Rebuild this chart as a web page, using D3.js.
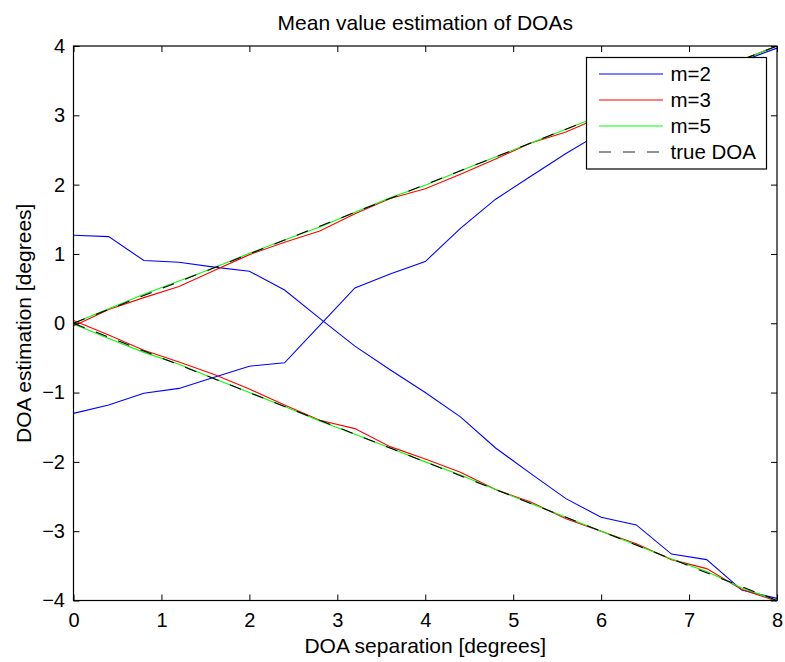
<!DOCTYPE html>
<html>
<head>
<meta charset="utf-8">
<script src="https://cdn.jsdelivr.net/npm/d3@7"></script>
<style>
  html, body { margin: 0; padding: 0; background: #fff; }
  svg { display: block; }
  text { font-family: "Liberation Sans", Arial, Helvetica, sans-serif; fill: #000; }
</style>
</head>
<body>
<svg id="chart" width="785" height="662"></svg>
<script>
// ---- data ----
const separation = [0, 0.4, 0.8, 1.2, 1.6, 2.0, 2.4, 2.8, 3.2, 3.6, 4.0, 4.4, 4.8, 5.2, 5.6, 6.0, 6.4, 6.8, 7.2, 7.6, 8.0];

const m2_first  = [1.27, 1.25, 0.905, 0.88, 0.81, 0.75, 0.48, 0.07, -0.33, -0.67, -1.0, -1.35, -1.8, -2.17, -2.53, -2.8, -2.91, -3.33, -3.41, -3.85, -3.97];
const m2_second = [-1.3, -1.18, -1.01, -0.94, -0.78, -0.62, -0.57, -0.03, 0.51, 0.71, 0.89, 1.37, 1.79, 2.12, 2.45, 2.75, 3.05, 3.3, 3.55, 3.78, 3.97];

const m3_first  = [-0.04, 0.2, 0.37, 0.53, 0.76, 0.99, 1.17, 1.33, 1.58, 1.8, 1.94, 2.15, 2.37, 2.6, 2.76, 2.98, 3.2, 3.4, 3.6, 3.8, 4.0];
const m3_second = [0.04, -0.17, -0.39, -0.56, -0.74, -0.95, -1.18, -1.4, -1.52, -1.78, -1.96, -2.15, -2.4, -2.58, -2.82, -3.0, -3.18, -3.41, -3.54, -3.84, -4.01];

const m5_first  = [0.0, 0.21, 0.42, 0.61, 0.8, 1.01, 1.2, 1.39, 1.6, 1.81, 1.99, 2.2, 2.4, 2.6, 2.8, 3.0, 3.2, 3.4, 3.6, 3.8, 4.0];
const m5_second = [-0.01, -0.22, -0.42, -0.59, -0.8, -1.0, -1.2, -1.41, -1.6, -1.8, -2.0, -2.19, -2.4, -2.6, -2.8, -3.0, -3.2, -3.4, -3.58, -3.82, -4.0];

const true_first  = [0, 0.2, 0.4, 0.6, 0.8, 1.0, 1.2, 1.4, 1.6, 1.8, 2.0, 2.2, 2.4, 2.6, 2.8, 3.0, 3.2, 3.4, 3.6, 3.8, 4.0];
const true_second = [0, -0.2, -0.4, -0.6, -0.8, -1.0, -1.2, -1.4, -1.6, -1.8, -2.0, -2.2, -2.4, -2.6, -2.8, -3.0, -3.2, -3.4, -3.6, -3.8, -4.0];

const xTicks = [0, 1, 2, 3, 4, 5, 6, 7, 8];
const yTicks = [-4, -3, -2, -1, 0, 1, 2, 3, 4];

const legendLabels = ["m=2", "m=3", "m=5", "true DOA"];
const seriesColors = ["#0000ff", "#ff0000", "#00ff00", "#000000"];

const titleText = "Mean value estimation of DOAs";
const xLabelText = "DOA separation [degrees]";
const yLabelText = "DOA estimation [degrees]";

// ---- layout ----
const W = 785, H = 662;
const L = 73.5, R = 777, T = 46, B = 600.5;

const svg = d3.select("#chart");
const x = d3.scaleLinear().domain([0, 8]).range([L, R]);
const y = d3.scaleLinear().domain([-4, 4]).range([B, T]);

svg.append("rect").attr("width", W).attr("height", H).attr("fill", "#fff");

svg.append("defs").append("clipPath").attr("id", "clip")
  .append("rect").attr("x", L).attr("y", T).attr("width", R - L).attr("height", B - T);

// ---- series ----
const seriesDefs = [
  { vals: [m2_first, m2_second], color: seriesColors[0], dash: null },
  { vals: [m3_first, m3_second], color: seriesColors[1], dash: null },
  { vals: [m5_first, m5_second], color: seriesColors[2], dash: null },
  { vals: [true_first, true_second], color: seriesColors[3], dash: "12,12" }
];

const line = d3.line().x(d => x(d[0])).y(d => y(d[1]));
const plot = svg.append("g").attr("clip-path", "url(#clip)");
seriesDefs.forEach(s => {
  s.vals.forEach(v => {
    const pts = separation.map((sx, i) => [sx, v[i]]);
    plot.append("path")
      .attr("d", line(pts))
      .attr("fill", "none")
      .attr("stroke", s.color)
      .attr("stroke-width", 1.1)
      .attr("stroke-dasharray", s.dash);
  });
});

// ---- axes ----
const tickFont = "20px";
const gx = svg.append("g").attr("transform", `translate(0,${B})`)
  .call(d3.axisBottom(x).tickValues(xTicks).tickSizeInner(-6).tickSizeOuter(0).tickPadding(12).tickFormat(d3.format("d")));
const gy = svg.append("g").attr("transform", `translate(${L},0)`)
  .call(d3.axisLeft(y).tickValues(yTicks).tickSizeInner(-6).tickSizeOuter(0).tickPadding(8.5).tickFormat(d3.format("d")));
const gxt = svg.append("g").attr("transform", `translate(0,${T})`)
  .call(d3.axisTop(x).tickValues(xTicks).tickSizeInner(-6).tickSizeOuter(0).tickFormat(""));
const gyr = svg.append("g").attr("transform", `translate(${R},0)`)
  .call(d3.axisRight(y).tickValues(yTicks).tickSizeInner(-6).tickSizeOuter(0).tickFormat(""));

[gx, gy, gxt, gyr].forEach(g => {
  g.select(".domain").remove();
  g.selectAll(".tick line").attr("stroke", "#000").attr("stroke-width", 1);
  g.selectAll(".tick text")
    .style("font-family", '"Liberation Sans", Arial, Helvetica, sans-serif')
    .style("font-size", tickFont).attr("fill", "#000");
});

svg.append("rect")
  .attr("x", L).attr("y", T).attr("width", R - L).attr("height", B - T)
  .attr("fill", "none").attr("stroke", "#000").attr("stroke-width", 1.2);

// ---- titles ----
svg.append("text").attr("x", (L + R) / 2).attr("y", 30)
  .attr("text-anchor", "middle").style("font-size", "21px").text(titleText);
svg.append("text").attr("x", (L + R) / 2).attr("y", 653)
  .attr("text-anchor", "middle").style("font-size", "21px").text(xLabelText);
svg.append("text").attr("transform", `translate(31,${(T + B) / 2}) rotate(-90)`)
  .attr("text-anchor", "middle").style("font-size", "21px").text(yLabelText);

// ---- legend ----
const lgX = 586.5, lgY = 57.5, lgW = 180, lgH = 111.5;
const lg = svg.append("g");
lg.append("rect").attr("x", lgX).attr("y", lgY).attr("width", lgW).attr("height", lgH)
  .attr("fill", "#fff").attr("stroke", "#000").attr("stroke-width", 1.2);
const rowY = [74, 100, 126, 152];
legendLabels.forEach((lab, i) => {
  lg.append("line")
    .attr("x1", 599).attr("x2", 663).attr("y1", rowY[i]).attr("y2", rowY[i])
    .attr("stroke", i === 3 ? "#6e6e6e" : seriesColors[i])
    .attr("stroke-width", i === 3 ? 1.6 : 1.1)
    .attr("stroke-dasharray", i === 3 ? "12,12" : null);
  lg.append("text").attr("x", 670.5).attr("y", rowY[i]).attr("dy", "0.36em")
    .style("font-size", "20.5px").text(lab);
});
</script>
</body>
</html>
